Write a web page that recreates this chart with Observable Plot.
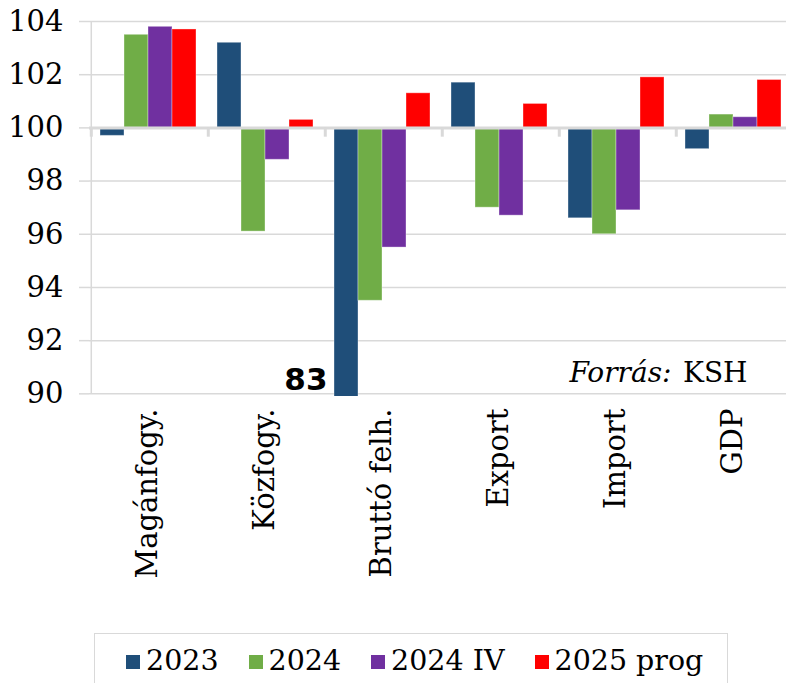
<!DOCTYPE html>
<html>
<head>
<meta charset="utf-8">
<script src="https://cdn.jsdelivr.net/npm/d3@7"></script>
<script src="https://cdn.jsdelivr.net/npm/@observablehq/plot@0.6"></script>
<style>
  html, body { margin: 0; padding: 0; background: #fff; }
  #wrap { position: relative; width: 786px; height: 683px; overflow: hidden; font-family: "DejaVu Serif", serif; }
  #chart svg { display: block; overflow: visible; }
  #legend {
    position: absolute; left: 94px; top: 633px; width: 634px; height: 70px;
    border: 1px solid #d9d9d9; box-sizing: border-box;
    display: flex; align-items: flex-start; padding: 13px 0 0 31px;
    font-size: 28.5px; line-height: 28px; color: #000;
  }
  .item { display: flex; align-items: flex-start; margin-right: 30px; white-space: nowrap; }
  .sw { width: 14px; height: 14px; margin-top: 8px; margin-right: 6px; flex: none; }
</style>
</head>
<body>
<div id="wrap">
  <div id="chart"></div>
  <div id="legend"></div>
</div>
<script>
// ---- data ----
const categories = ["Magánfogy.", "Közfogy.", "Bruttó felh.", "Export", "Import", "GDP"];
const seriesNames = ["2023", "2024", "2024 IV", "2025 prog"];
const seriesColors = ["#1F4E79", "#70AD47", "#7030A0", "#FF0000"];
const v2023   = [99.7, 103.2, 83,   101.7, 96.6, 99.2];
const v2024   = [103.5, 96.1, 93.5, 97.0,  96.0, 100.5];
const v2024IV = [103.8, 98.8, 95.5, 96.7,  96.9, 100.4];
const v2025   = [103.7, 100.3, 101.3, 100.9, 101.9, 101.8];
const yTicks = [90, 92, 94, 96, 98, 100, 102, 104];
const baseline = 100;
const yMin = 89.9, yMax = 104;
const sourceLabel = "Forrás:";
const sourceName = "KSH";

const seriesValues = [v2023, v2024, v2024IV, v2025];
const rows = categories.flatMap((c, i) =>
  seriesNames.map((s, j) => ({cat: c, series: s, value: seriesValues[j][i]}))
);

// ---- layout ----
const W = 786, H = 610, mL = 88, mR = -6, mT = 21, mB = 214;
const padOuter = 0.35;
const facetW = (W - mL - mR) / categories.length;
const barW = facetW / (seriesNames.length + 2 * padOuter);
const edgeDx = -(padOuter * barW + barW / 2);
const grid = "#d9d9d9";

const chart = Plot.plot({
  width: W, height: H,
  marginLeft: mL, marginRight: mR, marginTop: mT, marginBottom: mB,
  style: {fontFamily: "DejaVu Serif", fontSize: "29px", color: "black", background: "white", overflow: "visible"},
  fx: {domain: categories, paddingInner: 0, paddingOuter: 0, label: null},
  x: {domain: seriesNames, paddingInner: 0, paddingOuter: padOuter, axis: null},
  y: {domain: [yMin, yMax], label: null},
  color: {domain: seriesNames, range: seriesColors},
  marks: [
    Plot.gridY(yTicks, {stroke: grid, strokeOpacity: 1, strokeWidth: 1.5}),
    Plot.axisY(yTicks, {tickSize: 10, tickPadding: 16, stroke: grid, strokeWidth: 1.5, fill: "black", label: null, fontSize: 29, tickFormat: d => String(d)}),
    Plot.barY(rows, {fx: "cat", x: "series", y1: baseline, y2: "value", fill: "series",
      stroke: "white", strokeOpacity: 0.35, strokeWidth: 1, clip: true}),
    Plot.ruleY([baseline], {stroke: grid, strokeWidth: 3}),
    Plot.ruleX(categories.map(c => ({cat: c})), {fx: "cat", x: () => seriesNames[0], dx: edgeDx,
      y1: baseline, y2: 99.65, stroke: grid, strokeWidth: 3}),
    Plot.ruleX([{cat: categories[0]}], {fx: "cat", x: () => seriesNames[0], dx: edgeDx,
      y1: 90, y2: yMax, stroke: grid, strokeWidth: 1.5}),
    Plot.axisFx({anchor: "bottom", tickRotate: -90, tickSize: 0, tickPadding: 12, label: null, fontSize: 29, fill: "black"}),
    Plot.text(rows.filter(d => d.value < yMin), {fx: "cat", x: "series", text: d => String(d.value),
      frameAnchor: "bottom", textAnchor: "end", lineAnchor: "bottom", dx: -19, dy: -7,
      fontFamily: "DejaVu Sans", fontWeight: "bold", fontSize: 31, fill: "black"}),
    Plot.text([{cat: categories[categories.length - 1]}], {fx: "cat", text: () => sourceName,
      frameAnchor: "bottom-right", textAnchor: "end", lineAnchor: "bottom", dx: -44, dy: -15,
      fontSize: 28, fill: "black"}),
    Plot.text([{cat: categories[categories.length - 1]}], {fx: "cat", text: () => sourceLabel,
      frameAnchor: "bottom-right", textAnchor: "end", lineAnchor: "bottom", dx: -120, dy: -15,
      fontSize: 28, fontStyle: "italic", fill: "black"})
  ]
});
document.getElementById("chart").appendChild(chart);

// ---- legend ----
const legend = document.getElementById("legend");
seriesNames.forEach((s, i) => {
  const item = document.createElement("div");
  item.className = "item";
  const sw = document.createElement("span");
  sw.className = "sw";
  sw.style.background = seriesColors[i];
  const t = document.createElement("span");
  t.textContent = s;
  item.appendChild(sw);
  item.appendChild(t);
  legend.appendChild(item);
});
</script>
</body>
</html>
